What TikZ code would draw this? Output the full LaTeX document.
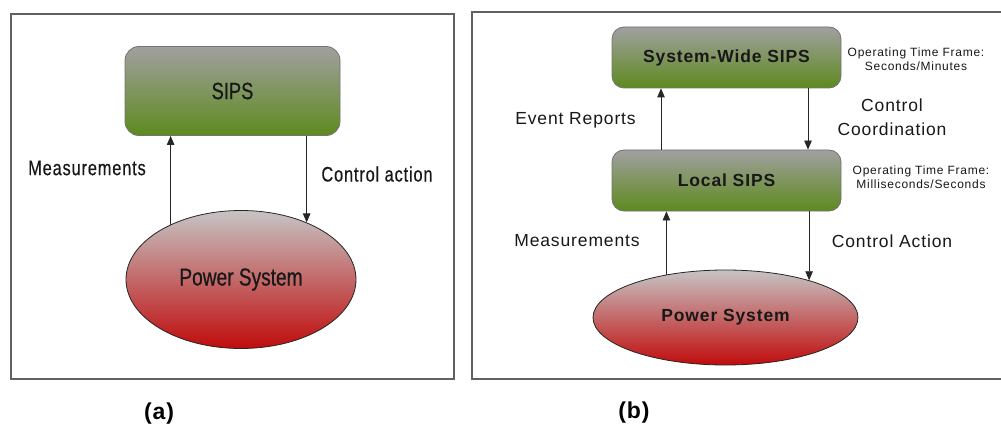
\documentclass[tikz,border=0pt]{standalone}
\usepackage{fontspec}
\setmainfont{Liberation Sans}
\newfontfamily\narrowf[FakeStretch=0.78,FakeBold=0.6]{Liberation Sans}
\newfontfamily\narrowsp[FakeStretch=0.78,FakeBold=0.4,LetterSpace=4]{Liberation Sans}
\newfontfamily\widef[LetterSpace=5]{Liberation Sans}
\newfontfamily\smallf[LetterSpace=6]{Liberation Sans}
\newfontfamily\capf[LetterSpace=4]{Liberation Sans}
\usetikzlibrary{shapes.geometric,arrows.meta}

\definecolor{boxtop}{RGB}{160,160,160}
\definecolor{boxbot}{RGB}{94,138,30}
\definecolor{boxedge}{RGB}{115,115,115}
\definecolor{elltop}{RGB}{198,196,196}
\definecolor{ellbot}{RGB}{192,12,12}
\definecolor{txt}{RGB}{24,24,24}

\tikzset{
  sipsbox/.style={rectangle, rounded corners=14pt, draw=boxedge, line width=0.8pt,
    top color=boxtop, bottom color=boxbot, inner sep=0pt, text=txt},
  psell/.style={ellipse, draw=black!85, line width=0.8pt,
    top color=elltop, bottom color=ellbot, inner sep=0pt, text=txt},
  arr/.style={-{Triangle[length=9pt,width=7.5pt]}, line width=0.8pt, draw=black!85},
  panelframe/.style={draw=black!62, line width=1.5pt},
  lblA/.style={inner sep=0pt, text=txt, font=\narrowsp\fontsize{21}{25}\selectfont},
  lblB/.style={inner sep=0pt, text=txt, align=center, font=\widef\fontsize{17.5}{24}\selectfont},
  smallt/.style={inner sep=0pt, text=txt, align=center, font=\smallf\fontsize{12}{14}\selectfont},
  captiont/.style={inner sep=0pt, text=black, font=\capf\bfseries\fontsize{23}{27}\selectfont},
}

\begin{document}
\begin{tikzpicture}[x=1pt, y=-1pt]
\useasboundingbox[fill=white] (0,0) rectangle (1001,425);

% ---------- panel (a) ----------
\draw[panelframe] (11,14) rectangle (454,379);

\node[sipsbox, minimum width=215pt, minimum height=89pt,
      font=\narrowf\fontsize{23.5}{27}\selectfont] (sipsA) at (232.5,91) {SIPS};
\node[psell, minimum width=230pt, minimum height=138pt,
      font=\narrowf\fontsize{24.5}{28}\selectfont] (psA) at (241,279.5) {Power System};

\draw[arr] (psA.142) -- (psA.142 |- sipsA.south);
\draw[arr] (sipsA.south -| psA.41.2) -- (psA.41.2);

\node[lblA] (measA) at (87,168) {Measurements};
\node[lblA] (ctrlA) at (377,174) {Control action};

\node[captiont] (capA) at (159,414) {(a)};

% ---------- panel (b) ----------
\draw[panelframe] (1001,12) -- (472,12) -- (472,379) -- (1001,379);

\node[sipsbox, rounded corners=12pt, minimum width=229pt, minimum height=61pt,
      font=\widef\bfseries\fontsize{17.5}{21}\selectfont] (sysB) at (726.5,57.5) {System-Wide SIPS};
\node[sipsbox, rounded corners=12pt, minimum width=229pt, minimum height=61pt,
      font=\widef\bfseries\fontsize{17.5}{21}\selectfont] (locB) at (726.5,180.5) {Local SIPS};
\node[psell, minimum width=265pt, minimum height=95pt,
      font=\widef\bfseries\fontsize{17.5}{21}\selectfont] (psB) at (725.5,317.5) {Power System};

\coordinate (xev) at (661,0);
\coordinate (xcc) at (808,0);
\draw[arr] (locB.north -| xev) -- (sysB.south -| xev);
\draw[arr] (sysB.south -| xcc) -- (locB.north -| xcc);
\draw[arr] (psB.144.5) -- (psB.144.5 |- locB.south);
\draw[arr] (locB.south -| psB.24.7) -- (psB.24.7);

\node[lblB] (evB) at (575.5,120) {Event Reports};
\node[lblB] (ccB) at (892,117) {Control\\Coordination};
\node[lblB] (measB) at (577,241) {Measurements};
\node[lblB] (ctrlB) at (892,241) {Control Action};

\node[smallt] (tfSys) at (916,59) {Operating Time Frame:\\Seconds/Minutes};
\node[smallt] (tfLoc) at (921,177) {Operating Time Frame:\\Milliseconds/Seconds};

\node[captiont] (capB) at (634,413) {(b)};
\end{tikzpicture}
\end{document}
